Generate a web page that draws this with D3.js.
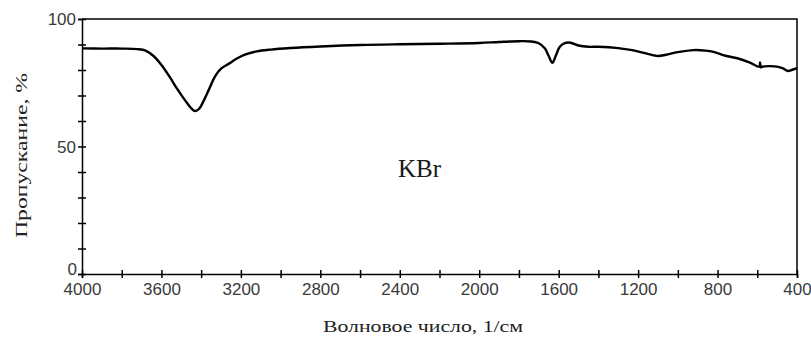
<!DOCTYPE html>
<html lang="ru">
<head>
<meta charset="UTF-8">
<title>ИК-спектр KBr</title>
<script src="https://d3js.org/d3.v7.min.js"></script>
<style>
  body { margin: 0; background: #fff; }
  .tick text { font-family: Arial, "Liberation Sans", sans-serif; font-size: 17px; fill: #3a3a3a; }
</style>
</head>
<body>
<div id="chart"></div>
<script>
// wavenumber (1/cm) and transmittance (%)
const wavenumber = [4000, 3900, 3800, 3720, 3680, 3640, 3600, 3560, 3520, 3480, 3450, 3430, 3410, 3390, 3360,
  3330, 3300, 3260, 3220, 3180, 3120, 3050, 2950, 2800, 2600, 2400, 2200, 2000, 1900, 1800, 1740, 1700, 1670,
  1650, 1632, 1615, 1595, 1570, 1540, 1500, 1450, 1400, 1300, 1230, 1160, 1100, 1060, 1000, 920, 860, 820,
  760, 700, 640, 590, 586, 582, 578, 540, 500, 470, 445, 420, 400];
const transmittance = [88.5, 88.4, 88.4, 88.2, 87.6, 85.5, 82.0, 77.5, 72.5, 68.0, 65.0, 63.9, 64.8, 67.5, 72.5,
  77.5, 80.5, 82.5, 84.5, 86.0, 87.3, 88.0, 88.6, 89.2, 89.8, 90.1, 90.3, 90.6, 91.0, 91.3, 91.2, 90.5, 88.5,
  85.5, 82.8, 85.5, 89.0, 90.5, 90.7, 89.6, 89.1, 89.1, 88.6, 87.8, 86.5, 85.5, 86.0, 87.0, 87.8, 87.6, 87.1,
  85.6, 84.6, 83.0, 81.3, 83.0, 81.0, 81.2, 81.5, 81.3, 80.6, 79.6, 80.2, 80.7];

const xTickLabels = [4000, 3600, 3200, 2800, 2400, 2000, 1600, 1200, 800, 400];
const yTickLabels = [0, 50, 100];

const W = 811, H = 337;
const margin = { top: 19, right: 14, bottom: 63, left: 82 };
const width = W - margin.left - margin.right,
      height = H - margin.top - margin.bottom;

const svg = d3.select("#chart").append("svg")
    .attr("width", W).attr("height", H);
const g = svg.append("g").attr("transform", `translate(${margin.left},${margin.top})`);

const x = d3.scaleLinear().domain([4000, 400]).range([0, width]);
const y = d3.scaleLinear().domain([0, 100]).range([height, 0]);

// frame: top and right border
g.append("path")
  .attr("d", `M0,0H${width}V${height}`)
  .attr("fill", "none").attr("stroke", "#000").attr("stroke-width", 1.5);

// minor tick marks (crossing the axis)
const xMinor = d3.range(4000, 399, -200);
const yMinor = d3.range(0, 101, 10);

const xAxis = g.append("g")
  .attr("transform", `translate(0,${height})`)
  .call(d3.axisBottom(x).tickValues(xMinor).tickSize(4).tickPadding(4)
        .tickFormat(d => xTickLabels.includes(d) ? d : ""));
xAxis.select(".domain").attr("stroke-width", 1.5);
xAxis.selectAll(".tick line").attr("y1", -4).attr("stroke-width", 1.5);
xAxis.selectAll(".tick text").attr("dy", "0.75em");

const yAxis = g.append("g")
  .call(d3.axisLeft(y).tickValues(yMinor).tickSize(4).tickPadding(2)
        .tickFormat(d => yTickLabels.includes(d) ? d : ""));
yAxis.select(".domain").attr("stroke-width", 1.5);
yAxis.selectAll(".tick line").attr("x1", 4).attr("stroke-width", 1.5);
yAxis.selectAll(".tick text").attr("dy", "0.35em")
  .filter(d => d === 0).attr("x", -5).attr("dy", "0em");

// spectrum
const data = wavenumber.map((w, i) => ({ w: w, t: transmittance[i] }));
g.append("path")
  .datum(data)
  .attr("fill", "none")
  .attr("stroke", "#000")
  .attr("stroke-width", 2.4)
  .attr("stroke-linejoin", "round")
  .attr("d", d3.line().x(d => x(d.w)).y(d => y(d.t)).curve(d3.curveCatmullRom));

// sample label
g.append("text")
  .attr("x", 398 - margin.left).attr("y", 177 - margin.top)
  .style("font-family", "'Liberation Serif', 'Times New Roman', serif")
  .style("font-size", "25px")
  .style("fill", "#1a1a1a")
  .text("KBr");

// axis titles
svg.append("text")
  .attr("x", 323).attr("y", 332)
  .attr("textLength", 200).attr("lengthAdjust", "spacingAndGlyphs")
  .style("font-family", "'Liberation Serif', 'Times New Roman', serif")
  .style("font-size", "17px")
  .style("fill", "#222")
  .text("Волновое число, 1/см");

svg.append("text")
  .attr("transform", "translate(27,238) rotate(-90)")
  .attr("textLength", 165).attr("lengthAdjust", "spacingAndGlyphs")
  .style("font-family", "'Liberation Serif', 'Times New Roman', serif")
  .style("font-size", "17px")
  .style("fill", "#222")
  .text("Пропускание, %");
</script>
</body>
</html>
